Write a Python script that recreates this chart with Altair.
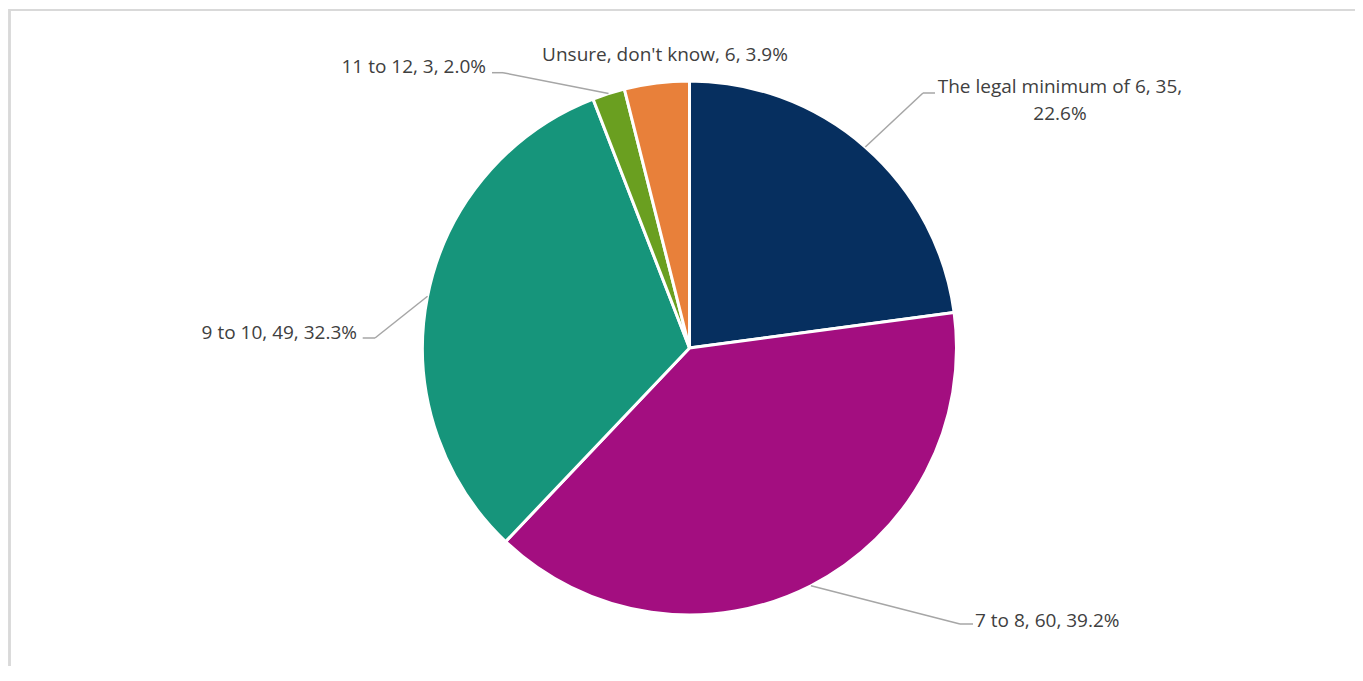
import altair as alt
import pandas as pd

# ---- data ----
categories = ["The legal minimum of 6", "7 to 8", "9 to 10", "11 to 12", "Unsure, don't know"]
counts = [35, 60, 49, 3, 6]
percents = [22.6, 39.2, 32.3, 2.0, 3.9]
title_text = "Chart 5 Smaller Council size suggestions"

# ---- styles / layout (kept apart from the data) ----
colors = ["#062F5F", "#A30E80", "#16957B", "#6A9F20", "#E8803A"]
two_line = [True, False, False, False, False]
label_x = [1052, 967, 349, 478, 657]
label_y = [85, 619, 331, 65, 53]
label_align = ["center", "left", "right", "right", "center"]
elbow_x = [915, 952, 367, 495, None]
elbow_y = [85, 616, 330, 64.7, None]
end_x = [927, 965, 354.7, 484, None]
end_y = [85, 616, 330, 64.7, None]

W, H = 1347, 658
CX, CY, R = 681.5, 340, 267
FONT = "Open Sans"
FS = 19
TXT = "#404040"


def make_label(c, n, p, two):
    if two:
        return f"{c}, {n},\n{p:.1f}%"
    return f"{c}, {n}, {p:.1f}%"


df = pd.DataFrame({
    "cat": categories,
    "count": counts,
    "order": list(range(len(categories))),
    "label": [make_label(c, n, p, t) for c, n, p, t in zip(categories, counts, percents, two_line)],
    "lx": label_x, "ly": label_y, "align": label_align,
    "ex": elbow_x, "ey": elbow_y, "tx": end_x, "ty": end_y,
})

pie = alt.Chart(df).mark_arc(outerRadius=R, stroke="white", strokeWidth=3).encode(
    theta=alt.Theta("count:Q", stack=True),
    order=alt.Order("order:Q"),
    color=alt.Color("cat:N", scale=alt.Scale(domain=categories, range=colors), legend=None),
    x=alt.value(CX),
    y=alt.value(CY),
)

lead_base = alt.Chart(df).transform_joinaggregate(
    total="sum(count)"
).transform_window(
    cum="sum(count)", sort=[alt.SortField("order")], frame=[None, 0]
).transform_calculate(
    mid="(datum.cum - datum.count/2) / datum.total * 2 * PI",
).transform_calculate(
    sx=f"{CX} + {R} * sin(datum.mid)",
    sy=f"{CY} - {R} * cos(datum.mid)",
).transform_filter("isValid(datum.ex)")

lead1 = lead_base.mark_rule(color="#A6A6A6", strokeWidth=1.5).encode(
    x=alt.X("sx:Q", scale=None, axis=None),
    y=alt.Y("sy:Q", scale=None, axis=None),
    x2="ex:Q", y2="ey:Q",
)
lead2 = lead_base.mark_rule(color="#A6A6A6", strokeWidth=1.5).encode(
    x=alt.X("ex:Q", scale=None, axis=None),
    y=alt.Y("ey:Q", scale=None, axis=None),
    x2="tx:Q", y2="ty:Q",
)

text_layers = []
for a in ["left", "center", "right"]:
    text_layers.append(
        alt.Chart(df).transform_filter(f"datum.align == '{a}'").mark_text(
            align=a, baseline="alphabetic", font=FONT, fontSize=FS, color=TXT,
            lineBreak="\n", lineHeight=27,
        ).encode(
            x=alt.X("lx:Q", scale=None, axis=None),
            y=alt.Y("ly:Q", scale=None, axis=None),
            text="label:N",
        )
    )

# frame lines of the chart area
frame_top = alt.Chart(df).mark_rule(color="#D9D9D9", strokeWidth=2).encode(
    x=alt.value(1), x2=alt.value(W), y=alt.value(2)
)
frame_left = alt.Chart(df).mark_rule(color="#D9D9D9", strokeWidth=2).encode(
    x=alt.value(1.5), y=alt.value(1), y2=alt.value(H)
)

title = alt.Chart(pd.DataFrame({"t": [title_text]})).mark_text(
    align="left", baseline="alphabetic", font=FONT, fontSize=17, fontStyle="italic",
    color="#2E74B5",
).encode(x=alt.value(-8), y=alt.value(-4), text="t:N")

chart = alt.layer(
    frame_top, frame_left, pie, lead1, lead2, *text_layers, title
).properties(
    width=W, height=H, autosize=alt.AutoSizeParams(type="none"), padding=0
).configure_view(stroke=None)

chart.save("out.html", embed_options={"renderer": "svg", "actions": False})
